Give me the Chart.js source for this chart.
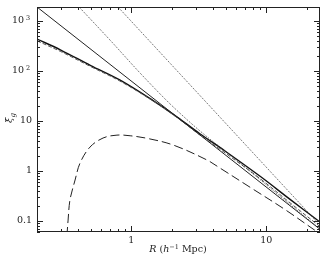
<!DOCTYPE html>
<html>
<head>
<meta charset="utf-8">
<script src="https://cdn.jsdelivr.net/npm/chart.js@4.4.0/dist/chart.umd.min.js"></script>
<style>
  html, body { margin: 0; padding: 0; background: #fff; }
  #wrap { width: 323px; height: 254px; }
</style>
</head>
<body>
<div id="wrap"><canvas id="chart" width="323" height="254"></canvas></div>
<script>
// values: R in h^-1 Mpc, xi_g
const rTotal   = [0.2, 0.3, 0.5, 0.82, 1.45, 2.2, 3.2, 5, 9, 15, 25];
const xiTotal  = [434, 262, 128, 66, 25.5, 11.8, 5.6, 2.45, 0.78, 0.27, 0.095];
const xiDashed = [400, 244, 122, 63, 25, 11.5, 5.3, 2.25, 0.70, 0.23, 0.077];

const rTwoHalo  = [0.333, 0.34, 0.351, 0.383, 0.417, 0.494, 0.617, 0.783, 0.98, 1.3, 2.04, 3.64, 4.54, 7.59, 13.7, 22.9];
const xiTwoHalo = [0.05, 0.104, 0.262, 0.658, 1.44, 3.0, 4.55, 5.2, 5.05, 4.5, 3.3, 1.65, 1.14, 0.47, 0.17, 0.065];

const rPower  = [0.2, 25];
const xiPower = [1900, 0.068];

const rDotA  = [0.41, 0.695, 1.16, 1.94, 3.23, 6.39, 12.6, 25];
const xiDotA = [1900, 415, 91, 21.8, 6.28, 1.44, 0.315, 0.069];

const rDotB  = [0.797, 25];
const xiDotB = [1900, 0.082];

const xRange = [0.2, 25];
const yRange = [0.06, 1900];
const xTickValues = [1, 10];
const xTickLabels = ['1', '10'];
const yTickValues = [1000, 100, 10, 1, 0.1];
const yTickBase   = ['10', '10', '10', '1', '0.1'];
const yTickSup    = ['3', '2', '', '', ''];

function pts(xs, ys) {
    return xs.map((v, i) => ({ x: v, y: ys[i] }));
}

function decadeTicks(min, max) {
    const out = [];
    for (let d = -3; d <= 4; d++) {
        for (let m = 1; m <= 9; m++) {
            const v = m * Math.pow(10, d);
            if (v >= min * 0.999 && v <= max * 1.001) out.push({ v: v, major: m === 1 });
        }
    }
    return out;
}

// frame, inward ticks on all four sides, and the labels
const frameAxes = {
    id: 'frameAxes',
    afterDraw(chart) {
        const { ctx, chartArea: a, scales: { x, y } } = chart;
        ctx.save();
        ctx.strokeStyle = '#222';
        ctx.lineWidth = 1;
        ctx.setLineDash([]);
        ctx.strokeRect(a.left + 0.5, a.top + 0.5, a.right - a.left - 1, a.bottom - a.top - 1);

        ctx.beginPath();
        decadeTicks(xRange[0], xRange[1]).forEach(t => {
            const px = Math.round(x.getPixelForValue(t.v)) + 0.5;
            const len = t.major ? 6 : 3;
            ctx.moveTo(px, a.bottom); ctx.lineTo(px, a.bottom - len);
            ctx.moveTo(px, a.top); ctx.lineTo(px, a.top + len);
        });
        decadeTicks(yRange[0], yRange[1]).forEach(t => {
            const py = Math.round(y.getPixelForValue(t.v)) + 0.5;
            const len = t.major ? 6 : 3;
            ctx.moveTo(a.left, py); ctx.lineTo(a.left + len, py);
            ctx.moveTo(a.right, py); ctx.lineTo(a.right - len, py);
        });
        ctx.stroke();

        ctx.fillStyle = '#222';
        ctx.textBaseline = 'middle';
        ctx.font = '9.5px "DejaVu Serif"';
        ctx.textAlign = 'center';
        xTickValues.forEach((v, i) => {
            ctx.fillText(xTickLabels[i], x.getPixelForValue(v), 241);
        });

        yTickValues.forEach((v, i) => {
            const py = y.getPixelForValue(v);
            ctx.font = '9.5px "DejaVu Serif"';
            if (yTickSup[i]) {
                ctx.textAlign = 'right';
                ctx.fillText(yTickBase[i], 24, py);
                ctx.font = '6.5px "DejaVu Serif"';
                ctx.textAlign = 'left';
                ctx.fillText(yTickSup[i], 26, py - 3);
            } else {
                ctx.textAlign = 'right';
                ctx.fillText(yTickBase[i], 32, py);
            }
        });

        // x title: R (h^-1 Mpc)
        const parts = [
            { t: 'R', f: 'italic 9.5px "DejaVu Serif"', dy: 0 },
            { t: ' (', f: '9.5px "DejaVu Serif"', dy: 0 },
            { t: 'h', f: 'italic 9.5px "DejaVu Serif"', dy: 0 },
            { t: '\u22121', f: '6.5px "DejaVu Serif"', dy: -3 },
            { t: ' Mpc)', f: '9.5px "DejaVu Serif"', dy: 0 }
        ];
        let w = 0;
        parts.forEach(p => { ctx.font = p.f; p.w = ctx.measureText(p.t).width; w += p.w; });
        let cx = 178 - w / 2;
        ctx.textAlign = 'left';
        ctx.textBaseline = 'alphabetic';
        parts.forEach(p => { ctx.font = p.f; ctx.fillText(p.t, cx, 252 + p.dy); cx += p.w; });

        // y title: xi_g, rotated
        ctx.translate(12, 119);
        ctx.rotate(-Math.PI / 2);
        ctx.font = 'italic 10px "DejaVu Serif"';
        ctx.fillText('\u03be', -4, 0);
        ctx.font = 'italic 7px "DejaVu Serif"';
        ctx.fillText('g', 1.5, 2.5);
        ctx.restore();
    }
};

const lineDefaults = { pointRadius: 0, fill: false, tension: 0 };

new Chart(document.getElementById('chart'), {
    type: 'line',
    data: {
        datasets: [
            Object.assign({}, lineDefaults, { data: pts(rDotB, xiDotB), borderColor: '#333', borderWidth: 0.9, borderDash: [1, 1.3] }),
            Object.assign({}, lineDefaults, { data: pts(rDotA, xiDotA), borderColor: '#333', borderWidth: 0.9, borderDash: [1, 1.3], tension: 0.3 }),
            Object.assign({}, lineDefaults, { data: pts(rPower, xiPower), borderColor: '#222', borderWidth: 1 }),
            Object.assign({}, lineDefaults, { data: pts(rTotal, xiDashed), borderColor: '#555', borderWidth: 1, borderDash: [4, 2], tension: 0.35 }),
            Object.assign({}, lineDefaults, { data: pts(rTotal, xiTotal), borderColor: '#111', borderWidth: 1.4, tension: 0.35 }),
            Object.assign({}, lineDefaults, { data: pts(rTwoHalo, xiTwoHalo), borderColor: '#222', borderWidth: 1, borderDash: [9, 4], tension: 0.35 })
        ]
    },
    options: {
        responsive: false,
        animation: false,
        layout: { padding: { left: 37, right: 3, top: 7, bottom: 22 } },
        plugins: { legend: { display: false }, tooltip: { enabled: false } },
        scales: {
            x: { type: 'logarithmic', min: xRange[0], max: xRange[1], display: false },
            y: { type: 'logarithmic', min: yRange[0], max: yRange[1], display: false }
        }
    },
    plugins: [frameAxes]
});
</script>
</body>
</html>
